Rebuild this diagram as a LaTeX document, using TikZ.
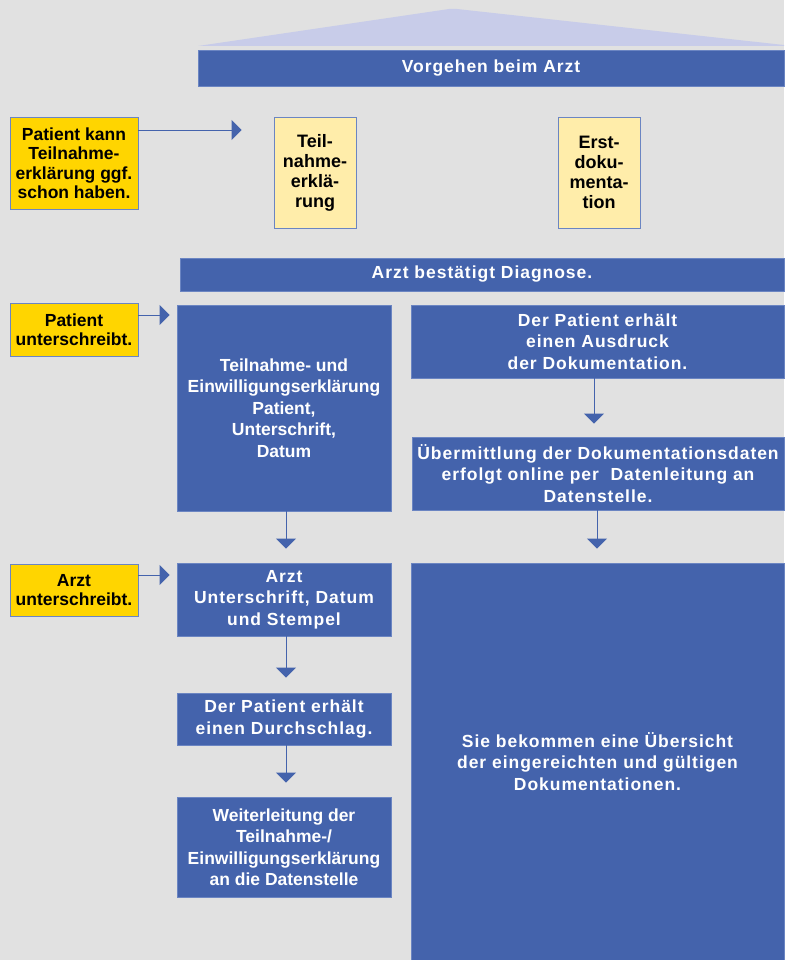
\documentclass[tikz,border=0pt]{standalone}
\usepackage{fontspec}
\setmainfont{Liberation Sans}
\usetikzlibrary{arrows.meta}
\definecolor{bg}{HTML}{E1E1E1}
\definecolor{kvblue}{HTML}{4463AC}
\definecolor{kvline}{HTML}{6B85C2}
\definecolor{roof}{HTML}{C8CCE9}
\definecolor{yel}{HTML}{FFD500}
\definecolor{lyel}{HTML}{FFEDAA}
\tikzset{
  bluebox/.style={rectangle, fill=kvblue, draw=kvline, line width=0.8pt, inner sep=0pt,
    text=white, align=center, font=\bfseries\fontsize{17.5}{21.5}\selectfont},
  widebox/.style={bluebox, font=\bfseries\fontsize{17.5}{21.5}\selectfont\addfontfeature{LetterSpace=5.5}},
  yelbox/.style={rectangle, fill=yel, draw=kvline, line width=0.8pt, inner sep=0pt,
    text=black, align=center, font=\bfseries\fontsize{17.5}{19.5}\selectfont},
  lyelbox/.style={rectangle, fill=lyel, draw=kvline, line width=0.8pt, inner sep=0pt,
    text=black, align=center, font=\bfseries\fontsize{18}{20}\selectfont},
  arr/.style={draw=kvblue, line width=0.9pt, -{Triangle[width=20pt,length=10pt]}}
}
\begin{document}
\begin{tikzpicture}[x=1pt,y=-1pt]
\fill[bg] (0,0) rectangle (784,960);
\useasboundingbox (0,0) rectangle (784,960);
% roof
\fill[roof] (198,46) -- (449,9) -- (457,9) -- (784,45) -- (784,46) -- cycle;
% header
\node[widebox, minimum width=586pt, minimum height=36pt] (top) at (491,68) {Vorgehen beim Arzt};
\node[yelbox, minimum width=128pt, minimum height=92pt] (yel1) at (74,163) {Patient kann\\Teilnahme-\\erklärung ggf.\\schon haben.};
\node[lyelbox, minimum width=82pt, minimum height=111pt] (tn) at (315,172.5) {Teil-\\nahme-\\erklä-\\rung};
\node[lyelbox, minimum width=82pt, minimum height=111pt] (ed) at (599,172.5) {Erst-\\doku-\\menta-\\tion};
\node[widebox, minimum width=604pt, minimum height=33pt] (diag) at (482,274.5) {Arzt bestätigt Diagnose.};
% left column
\node[yelbox, minimum width=128pt, minimum height=53pt] (yel2) at (74,329.5) {Patient\\unterschreibt.};
\node[bluebox, minimum width=214pt, minimum height=206pt] (tue) at (284,408) {Teilnahme- und\\Einwilligungserklärung\\Patient,\\Unterschrift,\\Datum};
\node[yelbox, minimum width=128pt, minimum height=52pt] (yel3) at (74,590) {Arzt\\unterschreibt.};
\node[widebox, minimum width=214pt, minimum height=73pt] (arzt) at (284,599.5) {Arzt\\Unterschrift, Datum\\und Stempel};
\node[widebox, minimum width=214pt, minimum height=52pt] (durch) at (284,719) {Der Patient erhält\\einen Durchschlag.};
\node[bluebox, minimum width=214pt, minimum height=100pt] (weiter) at (284,847) {Weiterleitung der\\Teilnahme-/\\Einwilligungserklärung\\an die Datenstelle};
% right column
\node[widebox, minimum width=373pt, minimum height=73pt] (aus) at (597.5,341.5) {Der Patient erhält\\einen Ausdruck\\der Dokumentation.};
\node[widebox, minimum width=372pt, minimum height=73pt] (ueb) at (598,473.5) {Übermittlung der Dokumentationsdaten\\erfolgt online per~ Datenleitung an\\Datenstelle.};
\node[widebox, minimum width=373pt, minimum height=397pt] (big) at (597.5,761.5) {Sie bekommen eine Übersicht\\der eingereichten und gültigen\\Dokumentationen.};
% arrows
\draw[arr, shorten >=32pt] (yel1.east |- 0,130) -- (tn.west |- 0,130);
\draw[arr, shorten >=7pt] (yel2.east |- 0,315) -- (tue.west |- 0,315);
\draw[arr, shorten >=7pt] (yel3.east |- 0,575) -- (arzt.west |- 0,575);
\draw[arr, shorten >=14pt] (tue.south -| 286,0) -- (arzt.north -| 286,0);
\draw[arr, shorten >=15pt] (arzt.south -| 286,0) -- (durch.north -| 286,0);
\draw[arr, shorten >=14pt] (durch.south -| 286,0) -- (weiter.north -| 286,0);
\draw[arr, shorten >=13pt] (aus.south -| 594,0) -- (ueb.north -| 594,0);
\draw[arr, shorten >=14pt] (ueb.south -| 597,0) -- (big.north -| 597,0);
\end{tikzpicture}
\end{document}
